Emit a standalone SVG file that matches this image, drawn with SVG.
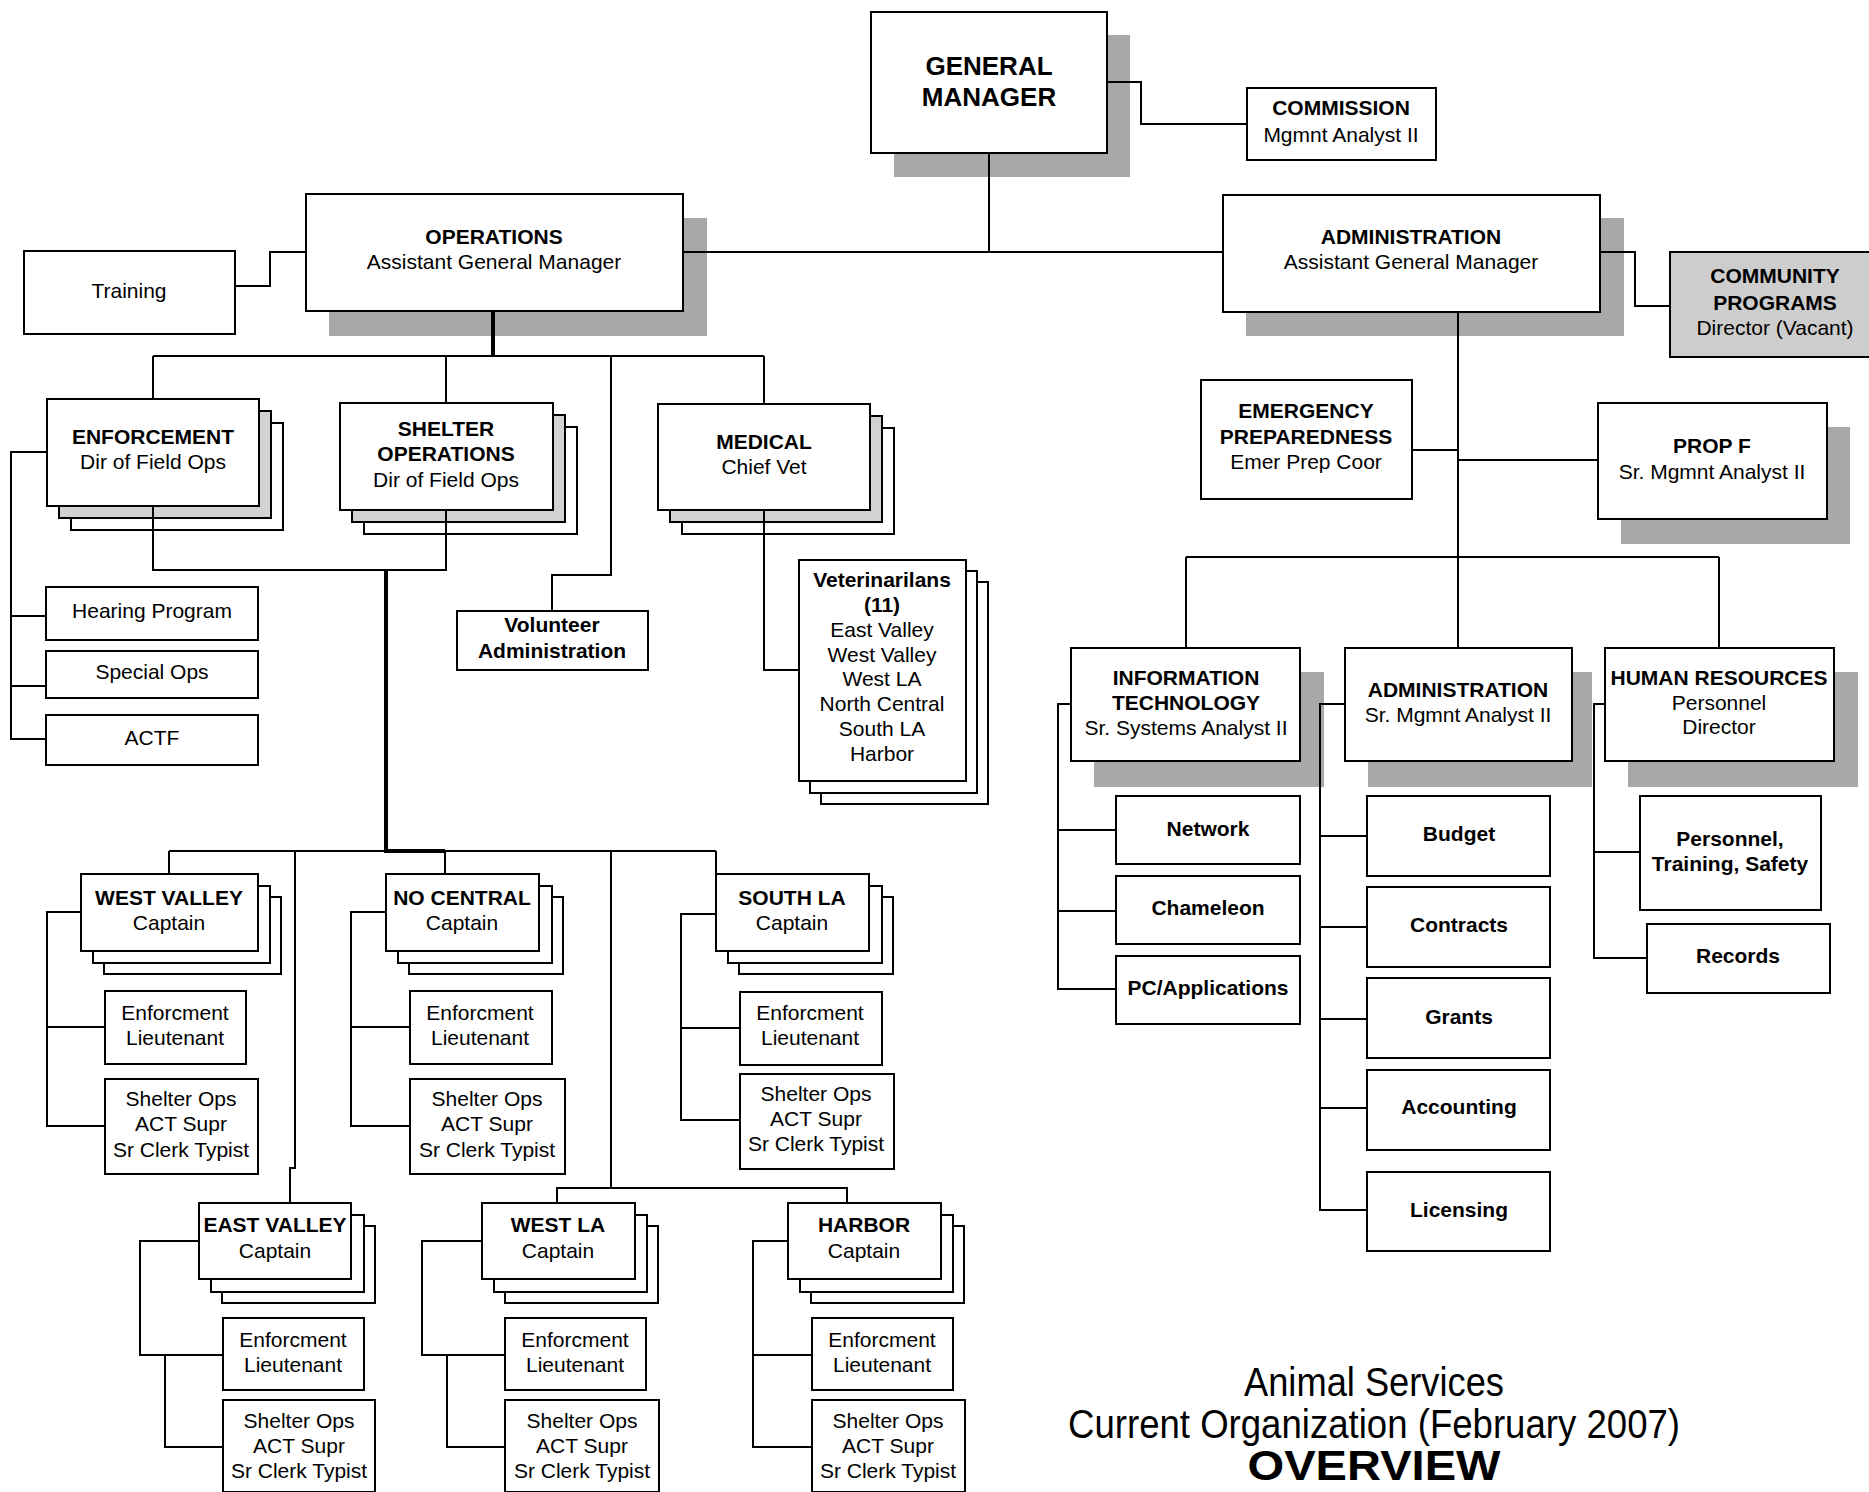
<svg xmlns="http://www.w3.org/2000/svg" width="1869" height="1492" viewBox="0 0 1869 1492">
<style>
.b{fill:#fff;stroke:#000;stroke-width:2}
.m{fill:#d2d2d2;stroke:#000;stroke-width:2}
.gp{fill:#cdcdcd;stroke:#000;stroke-width:2}
.sh{fill:#a8a8a8}
.c{fill:none;stroke:#000;stroke-width:2}
.k{fill:none;stroke:#000;stroke-width:4}
text{font-family:"Liberation Sans",Arial,sans-serif;font-size:21px;text-anchor:middle;fill:#000}
.t{font-weight:bold}
</style>
<rect width="1869" height="1492" fill="#fff"/>

<g id="general-manager">
<rect class="sh" x="894" y="35" width="236" height="142"/>
<rect class="b" x="871" y="12" width="236" height="141"/>
<text class="t" x="989" y="75" style="font-size:26px">GENERAL</text>
<text class="t" x="989" y="106" style="font-size:26px">MANAGER</text>
</g>
<g id="commission">
<rect class="b" x="1247" y="88" width="189" height="72"/>
<text class="t" x="1341" y="115">COMMISSION</text>
<text x="1341" y="142">Mgmnt Analyst II</text>
</g>
<g id="operations">
<rect class="sh" x="329" y="218" width="378" height="118"/>
<rect class="b" x="306" y="194" width="377" height="117"/>
<text class="t" x="494" y="244">OPERATIONS</text>
<text x="494" y="269">Assistant General Manager</text>
</g>
<g id="training">
<rect class="b" x="24" y="251" width="211" height="83"/>
<text x="129" y="298">Training</text>
</g>
<g id="administration">
<rect class="sh" x="1246" y="218" width="378" height="118"/>
<rect class="b" x="1223" y="195" width="377" height="117"/>
<text class="t" x="1411" y="244">ADMINISTRATION</text>
<text x="1411" y="269">Assistant General Manager</text>
</g>
<g id="community-programs">
<rect class="gp" x="1670" y="252" width="205" height="105"/>
<text class="t" x="1775" y="283">COMMUNITY</text>
<text class="t" x="1775" y="310">PROGRAMS</text>
<text x="1775" y="335">Director (Vacant)</text>
</g>

<g id="enforcement">
<rect class="b" x="71" y="423" width="212" height="107"/>
<rect class="m" x="59" y="411" width="212" height="107"/>
<rect class="b" x="47" y="399" width="212" height="107"/>
<text class="t" x="153" y="444">ENFORCEMENT</text>
<text x="153" y="469">Dir of Field Ops</text>
</g>
<g id="shelter-operations">
<rect class="b" x="364" y="427" width="213" height="107"/>
<rect class="m" x="352" y="415" width="213" height="107"/>
<rect class="b" x="340" y="403" width="213" height="107"/>
<text class="t" x="446" y="436">SHELTER</text>
<text class="t" x="446" y="461">OPERATIONS</text>
<text x="446" y="487">Dir of Field Ops</text>
</g>
<g id="medical">
<rect class="b" x="682" y="428" width="212" height="106"/>
<rect class="m" x="670" y="416" width="212" height="106"/>
<rect class="b" x="658" y="404" width="212" height="106"/>
<text class="t" x="764" y="449">MEDICAL</text>
<text x="764" y="474">Chief Vet</text>
</g>
<g id="hearing-program">
<rect class="b" x="46" y="587" width="212" height="53"/>
<text x="152" y="618">Hearing Program</text>
</g>
<g id="special-ops">
<rect class="b" x="46" y="651" width="212" height="47"/>
<text x="152" y="679">Special Ops</text>
</g>
<g id="actf">
<rect class="b" x="46" y="715" width="212" height="50"/>
<text x="152" y="745">ACTF</text>
</g>
<g id="volunteer-administration">
<rect class="b" x="457" y="611" width="191" height="59"/>
<text class="t" x="552" y="632">Volunteer</text>
<text class="t" x="552" y="658">Administration</text>
</g>
<g id="veterinarians">
<rect class="b" x="821" y="582" width="167" height="222"/>
<rect class="b" x="810" y="571" width="167" height="222"/>
<rect class="b" x="799" y="560" width="167" height="221"/>
<text class="t" x="882" y="587">Veterinarilans</text>
<text class="t" x="882" y="612">(11)</text>
<text x="882" y="637">East Valley</text>
<text x="882" y="662">West Valley</text>
<text x="882" y="686">West LA</text>
<text x="882" y="711">North Central</text>
<text x="882" y="736">South LA</text>
<text x="882" y="761">Harbor</text>
</g>

<g id="emergency-preparedness">
<rect class="b" x="1201" y="380" width="211" height="119"/>
<text class="t" x="1306" y="418">EMERGENCY</text>
<text class="t" x="1306" y="444">PREPAREDNESS</text>
<text x="1306" y="469">Emer Prep Coor</text>
</g>
<g id="prop-f">
<rect class="sh" x="1621" y="427" width="229" height="117"/>
<rect class="b" x="1598" y="403" width="229" height="116"/>
<text class="t" x="1712" y="453">PROP F</text>
<text x="1712" y="479">Sr. Mgmnt Analyst II</text>
</g>
<g id="information-technology">
<rect class="sh" x="1094" y="672" width="230" height="115"/>
<rect class="b" x="1071" y="648" width="229" height="113"/>
<text class="t" x="1186" y="685">INFORMATION</text>
<text class="t" x="1186" y="710">TECHNOLOGY</text>
<text x="1186" y="735">Sr. Systems Analyst II</text>
</g>
<g id="administration-sub">
<rect class="sh" x="1368" y="672" width="224" height="115"/>
<rect class="b" x="1345" y="648" width="227" height="113"/>
<text class="t" x="1458" y="697">ADMINISTRATION</text>
<text x="1458" y="722">Sr. Mgmnt Analyst II</text>
</g>
<g id="human-resources">
<rect class="sh" x="1628" y="672" width="230" height="115"/>
<rect class="b" x="1605" y="648" width="229" height="113"/>
<text class="t" x="1719" y="685">HUMAN RESOURCES</text>
<text x="1719" y="710">Personnel</text>
<text x="1719" y="734">Director</text>
</g>
<g id="network"><rect class="b" x="1116" y="796" width="184" height="68"/><text class="t" x="1208" y="836">Network</text></g>
<g id="chameleon"><rect class="b" x="1116" y="876" width="184" height="68"/><text class="t" x="1208" y="915">Chameleon</text></g>
<g id="pc-applications"><rect class="b" x="1116" y="956" width="184" height="68"/><text class="t" x="1208" y="995">PC/Applications</text></g>
<g id="budget"><rect class="b" x="1367" y="796" width="183" height="80"/><text class="t" x="1459" y="841">Budget</text></g>
<g id="contracts"><rect class="b" x="1367" y="887" width="183" height="80"/><text class="t" x="1459" y="932">Contracts</text></g>
<g id="grants"><rect class="b" x="1367" y="978" width="183" height="80"/><text class="t" x="1459" y="1024">Grants</text></g>
<g id="accounting"><rect class="b" x="1367" y="1070" width="183" height="80"/><text class="t" x="1459" y="1114">Accounting</text></g>
<g id="licensing"><rect class="b" x="1367" y="1172" width="183" height="79"/><text class="t" x="1459" y="1217">Licensing</text></g>
<g id="personnel-training-safety">
<rect class="b" x="1640" y="796" width="181" height="114"/>
<text class="t" x="1730" y="846">Personnel,</text>
<text class="t" x="1730" y="871">Training, Safety</text>
</g>
<g id="records"><rect class="b" x="1647" y="924" width="183" height="69"/><text class="t" x="1738" y="963">Records</text></g>

<g id="west-valley">
<rect class="b" x="104" y="897" width="177" height="77"/>
<rect class="b" x="93" y="886" width="177" height="77"/>
<rect class="b" x="81" y="874" width="177" height="77"/>
<text class="t" x="169" y="905">WEST VALLEY</text>
<text x="169" y="930">Captain</text>
</g>
<g id="west-valley-enforcement"><rect class="b" x="105" y="991" width="141" height="73"/><text x="175" y="1020">Enforcment</text><text x="175" y="1045">Lieutenant</text></g>
<g id="west-valley-shelter"><rect class="b" x="105" y="1079" width="153" height="95"/><text x="181" y="1106">Shelter Ops</text><text x="181" y="1131">ACT Supr</text><text x="181" y="1157">Sr Clerk Typist</text></g>

<g id="no-central">
<rect class="b" x="409" y="897" width="154" height="77"/>
<rect class="b" x="398" y="886" width="154" height="77"/>
<rect class="b" x="386" y="874" width="153" height="77"/>
<text class="t" x="462" y="905">NO CENTRAL</text>
<text x="462" y="930">Captain</text>
</g>
<g id="no-central-enforcement"><rect class="b" x="410" y="991" width="142" height="73"/><text x="480" y="1020">Enforcment</text><text x="480" y="1045">Lieutenant</text></g>
<g id="no-central-shelter"><rect class="b" x="410" y="1079" width="155" height="95"/><text x="487" y="1106">Shelter Ops</text><text x="487" y="1131">ACT Supr</text><text x="487" y="1157">Sr Clerk Typist</text></g>

<g id="south-la">
<rect class="b" x="739" y="897" width="154" height="77"/>
<rect class="b" x="728" y="886" width="154" height="77"/>
<rect class="b" x="716" y="874" width="153" height="77"/>
<text class="t" x="792" y="905">SOUTH LA</text>
<text x="792" y="930">Captain</text>
</g>
<g id="south-la-enforcement"><rect class="b" x="740" y="992" width="142" height="73"/><text x="810" y="1020">Enforcment</text><text x="810" y="1045">Lieutenant</text></g>
<g id="south-la-shelter"><rect class="b" x="740" y="1074" width="154" height="95"/><text x="816" y="1101">Shelter Ops</text><text x="816" y="1126">ACT Supr</text><text x="816" y="1151">Sr Clerk Typist</text></g>

<g id="east-valley">
<rect class="b" x="222" y="1226" width="153" height="77"/>
<rect class="b" x="211" y="1215" width="153" height="77"/>
<rect class="b" x="199" y="1203" width="152" height="76"/>
<text class="t" x="275" y="1232">EAST VALLEY</text>
<text x="275" y="1258">Captain</text>
</g>
<g id="east-valley-enforcement"><rect class="b" x="223" y="1318" width="141" height="72"/><text x="293" y="1347">Enforcment</text><text x="293" y="1372">Lieutenant</text></g>
<g id="east-valley-shelter"><rect class="b" x="223" y="1400" width="152" height="92"/><text x="299" y="1428">Shelter Ops</text><text x="299" y="1453">ACT Supr</text><text x="299" y="1478">Sr Clerk Typist</text></g>

<g id="west-la">
<rect class="b" x="505" y="1226" width="153" height="77"/>
<rect class="b" x="494" y="1215" width="153" height="77"/>
<rect class="b" x="482" y="1203" width="153" height="76"/>
<text class="t" x="558" y="1232">WEST LA</text>
<text x="558" y="1258">Captain</text>
</g>
<g id="west-la-enforcement"><rect class="b" x="505" y="1318" width="141" height="72"/><text x="575" y="1347">Enforcment</text><text x="575" y="1372">Lieutenant</text></g>
<g id="west-la-shelter"><rect class="b" x="505" y="1400" width="154" height="92"/><text x="582" y="1428">Shelter Ops</text><text x="582" y="1453">ACT Supr</text><text x="582" y="1478">Sr Clerk Typist</text></g>

<g id="harbor">
<rect class="b" x="811" y="1226" width="153" height="77"/>
<rect class="b" x="800" y="1215" width="153" height="77"/>
<rect class="b" x="788" y="1203" width="153" height="76"/>
<text class="t" x="864" y="1232">HARBOR</text>
<text x="864" y="1258">Captain</text>
</g>
<g id="harbor-enforcement"><rect class="b" x="812" y="1318" width="141" height="72"/><text x="882" y="1347">Enforcment</text><text x="882" y="1372">Lieutenant</text></g>
<g id="harbor-shelter"><rect class="b" x="812" y="1400" width="153" height="92"/><text x="888" y="1428">Shelter Ops</text><text x="888" y="1453">ACT Supr</text><text x="888" y="1478">Sr Clerk Typist</text></g>

<g id="connectors">
<path class="c" d="M989 153V252M683 252H1223M1107 82H1141V124H1247M235 286H270V252H306M1600 252H1635V306H1670"/>
<path class="k" d="M493 311V356"/>
<path class="c" d="M153 356H764M153 356V399M446 356V403M611 356V575H552V611M764 356V404"/>
<path class="c" d="M47 452H11V739H46M11 616H46M11 686H46"/>
<path class="c" d="M153 506V570H446V510M764 510V670H799"/>
<path class="k" d="M386 570V851H445"/>
<path class="c" d="M169 851H716M169 851V874M295 851V1168H290V1203M445 851V874M611 851V1188M557 1203V1188H847V1203M716 851V874"/>
<path class="c" d="M81 912H47V1126H105M47 1027H105"/>
<path class="c" d="M386 912H351V1126H410M351 1027H410"/>
<path class="c" d="M716 914H681V1120H740M681 1028H740"/>
<path class="c" d="M199 1241H140V1355H223M165 1355V1447H223"/>
<path class="c" d="M482 1241H422V1355H505M447 1355V1447H505"/>
<path class="c" d="M788 1241H753V1447H812M753 1355H812"/>
<path class="c" d="M1458 312V557M1412 450H1458M1458 460H1598M1186 557H1719M1186 557V648M1458 557V648M1719 557V648"/>
<path class="c" d="M1071 704H1058V989H1116M1058 830H1116M1058 911H1116"/>
<path class="c" d="M1345 704H1320V1210H1367M1320 836H1367M1320 927H1367M1320 1019H1367M1320 1108H1367"/>
<path class="c" d="M1605 704H1594V958H1647M1594 852H1640"/>
</g>

<g id="title">
<text x="1374" y="1396" style="font-size:40px" textLength="260" lengthAdjust="spacingAndGlyphs">Animal Services</text>
<text x="1374" y="1438" style="font-size:40px" textLength="612" lengthAdjust="spacingAndGlyphs">Current Organization (February 2007)</text>
<text class="t" x="1374" y="1480" style="font-size:42px" textLength="253" lengthAdjust="spacingAndGlyphs">OVERVIEW</text>
</g>
</svg>
